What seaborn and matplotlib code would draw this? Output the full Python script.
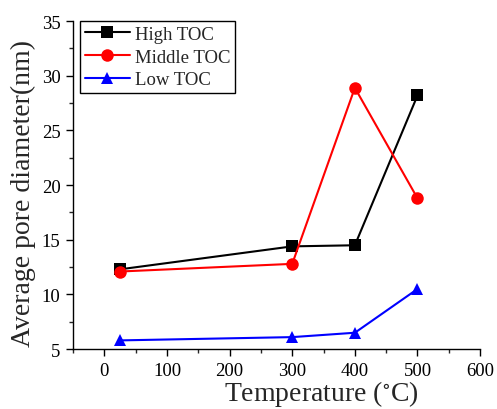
import numpy as np
import pandas as pd
import seaborn as sns
import matplotlib.pyplot as plt
from matplotlib.ticker import MultipleLocator

temperature = [25, 300, 400, 500]
high_toc = [12.3, 14.4, 14.5, 28.2]
middle_toc = [12.1, 12.8, 28.9, 18.8]
low_toc = [5.8, 6.1, 6.5, 10.5]
series_names = ['High TOC', 'Middle TOC', 'Low TOC']

df = pd.DataFrame({
    'Temperature': temperature * 3,
    'Diameter': high_toc + middle_toc + low_toc,
    'Sample': np.repeat(series_names, len(temperature)),
})

sns.set_style('ticks')
plt.rcParams['font.family'] = ['Liberation Serif', 'DejaVu Serif']
plt.rcParams['mathtext.fontset'] = 'stix'
plt.rcParams['xtick.direction'] = 'out'
plt.rcParams['ytick.direction'] = 'out'

fig = plt.figure(figsize=(4.97, 4.10), dpi=100)
ax = fig.add_axes([0.147, 0.146, 0.819, 0.8])

sns.lineplot(data=df, x='Temperature', y='Diameter', hue='Sample', style='Sample',
             hue_order=series_names, style_order=series_names,
             palette={'High TOC': 'black', 'Middle TOC': 'red', 'Low TOC': 'blue'},
             markers={'High TOC': 's', 'Middle TOC': 'o', 'Low TOC': '^'},
             dashes=False, markersize=9, markeredgewidth=0, linewidth=1.5, ax=ax)

ax.set_xlim(-50, 600)
ax.set_ylim(5, 35)
ax.xaxis.set_major_locator(MultipleLocator(100))
ax.xaxis.set_minor_locator(MultipleLocator(50))
ax.yaxis.set_major_locator(MultipleLocator(5))
ax.yaxis.set_minor_locator(MultipleLocator(2.5))
ax.tick_params(which='major', length=5, width=1, labelsize=13.5, colors='black', pad=4)
ax.tick_params(which='minor', length=3, width=1)
for s in ['left', 'bottom']:
    ax.spines[s].set_color('black')
    ax.spines[s].set_linewidth(1)
sns.despine(ax=ax)

ax.set_xlabel(r'Temperature ($^{\circ}$C)', fontsize=20)
ax.xaxis.set_label_coords(0.61, -0.088)
ax.set_ylabel('Average pore diameter(nm)', fontsize=20)
ax.yaxis.set_label_coords(-0.091, 0.479)

leg = ax.legend(loc='upper left', bbox_to_anchor=(0.017, 1.0), borderaxespad=0,
                fontsize=13.5, frameon=True, fancybox=False, edgecolor='black',
                framealpha=1, handlelength=2.4, borderpad=0.25, labelspacing=0.3,
                handletextpad=0.3)
leg.get_frame().set_linewidth(1)

fig.savefig('out.png', dpi=100)
